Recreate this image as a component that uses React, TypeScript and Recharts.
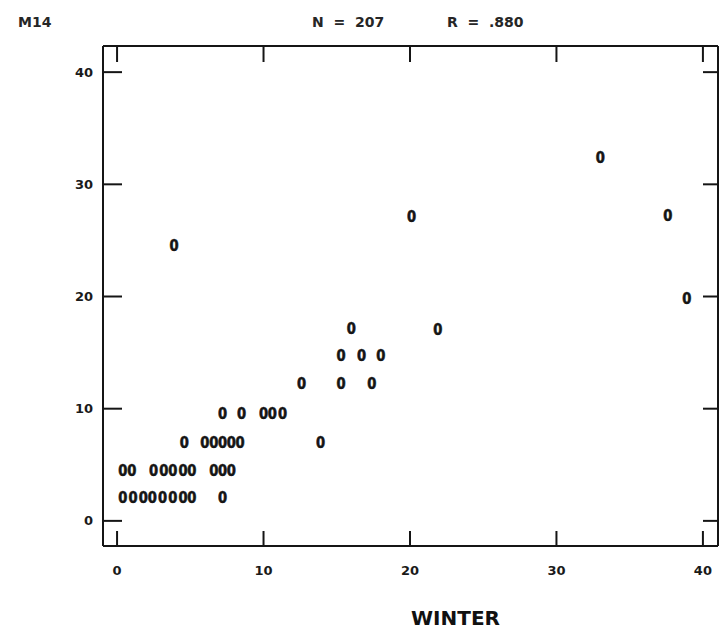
import React from 'react';
import { ScatterChart, Scatter, XAxis, YAxis, Label } from 'recharts';

const winterX = [
  0.4, 1.1, 1.8, 2.4, 3.1, 3.8, 4.5, 5.1, 7.2,
  0.4, 1.0, 2.5, 3.2, 3.8, 4.5, 5.1, 6.6, 7.2, 7.8,
  4.6, 6.0, 6.6, 7.2, 7.8, 8.4, 13.9,
  7.2, 8.5, 10.0, 10.6, 11.3,
  12.6, 15.3, 17.4,
  15.3, 16.7, 18.0,
  16.0, 21.9,
  38.9,
  3.9,
  20.1, 37.6,
  33.0,
];
const m14Y = [
  2.1, 2.1, 2.1, 2.1, 2.1, 2.1, 2.1, 2.1, 2.1,
  4.5, 4.5, 4.5, 4.5, 4.5, 4.5, 4.5, 4.5, 4.5, 4.5,
  7.0, 7.0, 7.0, 7.0, 7.0, 7.0, 7.0,
  9.6, 9.6, 9.6, 9.6, 9.6,
  12.3, 12.3, 12.3,
  14.8, 14.8, 14.8,
  17.2, 17.1,
  19.9,
  24.6,
  27.2, 27.3,
  32.4,
];
const xTicks = [0, 10, 20, 30, 40];
const yTicks = [0, 10, 20, 30, 40];
const xDomain = [-0.96, 41.03];
const yDomain = [-2.24, 42.33];

const data = winterX.map((x, i) => ({ x, y: m14Y[i] }));

const INK = '#151515';
const boldFont = "'DejaVu Sans', Verdana, sans-serif";

const ZeroMark = (props: any) => {
  const { cx, cy } = props;
  if (cx == null || cy == null) return null;
  return (
    <text
      transform={`translate(${cx},${cy}) scale(0.82,1)`}
      x={0}
      y={0}
      textAnchor="middle"
      dominantBaseline="central"
      fontFamily={boldFont}
      fontWeight="bold"
      fontSize={16}
      fill={INK}
      stroke={INK}
      strokeWidth={0.6}
    >
      0
    </text>
  );
};

const EmptyTick = () => <g />;

const tickStyle = { fontFamily: boldFont, fontWeight: 'bold' as const, fontSize: 13, fill: '#1a1a1a' };
const lineStyle = { stroke: INK, strokeWidth: 2 };

const headerStyle: React.CSSProperties = {
  position: 'absolute',
  top: 15,
  fontFamily: boldFont,
  fontWeight: 'bold',
  fontSize: 14,
  lineHeight: '14px',
  color: '#262626',
  whiteSpace: 'pre',
};

export default function App() {
  return (
    <div style={{ position: 'absolute', left: 0, top: 0, width: 721, height: 637, background: '#fff' }}>
      <div style={{ ...headerStyle, left: 18 }}>M14</div>
      <div style={{ ...headerStyle, left: 312 }}>{'N  =  207'}</div>
      <div style={{ ...headerStyle, left: 447 }}>{'R  =  .880'}</div>
      <ScatterChart
        width={721}
        height={637}
        margin={{ top: 46, right: 3, bottom: 0, left: 0 }}
      >
        <XAxis
          xAxisId="bin"
          type="number"
          dataKey="x"
          orientation="bottom"
          domain={xDomain}
          ticks={xTicks}
          allowDataOverflow
          mirror
          height={1}
          axisLine={false}
          tick={EmptyTick}
          tickSize={15}
          tickLine={lineStyle}
        />
        <XAxis
          xAxisId="x"
          type="number"
          dataKey="x"
          orientation="bottom"
          domain={xDomain}
          ticks={xTicks}
          allowDataOverflow
          height={91}
          axisLine={lineStyle}
          tickLine={false}
          tickSize={0}
          tickMargin={20}
          tick={tickStyle}
        >
          <Label
            value="WINTER"
            position="insideBottom"
            offset={12}
            dx={45}
            style={{ fontFamily: boldFont, fontWeight: 'bold', fontSize: 20, fill: '#111' }}
          />
        </XAxis>
        <XAxis
          xAxisId="top"
          type="number"
          dataKey="x"
          orientation="top"
          domain={xDomain}
          ticks={xTicks}
          allowDataOverflow
          mirror
          height={1}
          axisLine={lineStyle}
          tick={EmptyTick}
          tickSize={16}
          tickLine={lineStyle}
        />
        <YAxis
          yAxisId="lin"
          type="number"
          dataKey="y"
          orientation="left"
          domain={yDomain}
          ticks={yTicks}
          allowDataOverflow
          mirror
          width={1}
          axisLine={false}
          tick={EmptyTick}
          tickSize={19}
          tickLine={lineStyle}
        />
        <YAxis
          yAxisId="y"
          type="number"
          dataKey="y"
          orientation="left"
          domain={yDomain}
          ticks={yTicks}
          allowDataOverflow
          width={103}
          axisLine={lineStyle}
          tickLine={false}
          tickSize={0}
          tickMargin={10}
          tick={tickStyle}
        />
        <YAxis
          yAxisId="right"
          type="number"
          dataKey="y"
          orientation="right"
          domain={yDomain}
          ticks={yTicks}
          allowDataOverflow
          mirror
          width={1}
          axisLine={lineStyle}
          tick={EmptyTick}
          tickSize={15}
          tickLine={lineStyle}
        />
        <Scatter
          data={data}
          xAxisId="x"
          yAxisId="y"
          shape={ZeroMark}
          isAnimationActive={false}
        />
      </ScatterChart>
    </div>
  );
}
